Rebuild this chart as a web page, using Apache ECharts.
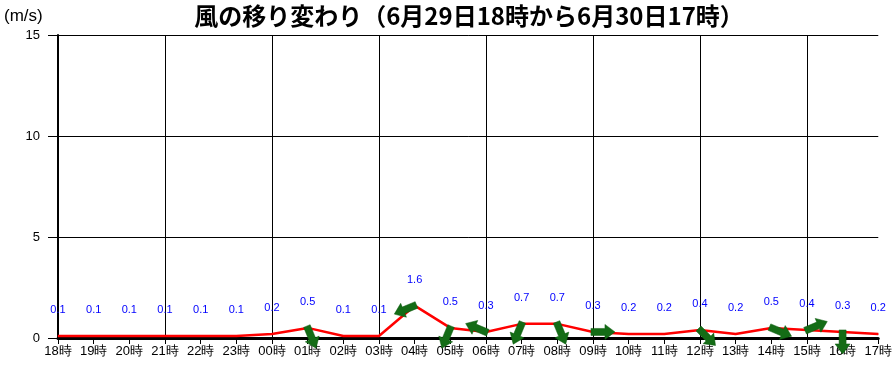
<!DOCTYPE html>
<html>
<head>
<meta charset="utf-8">
<script src="https://cdn.jsdelivr.net/npm/echarts@6/dist/echarts.min.js"></script>
<style>html,body{margin:0;padding:0;background:#fff;}#c{width:895px;height:366px;}</style>
</head>
<body>
<div id="c"></div>
<script>
var titleText = '風の移り変わり（6月29日18時から6月30日17時）';
var unitText = '(m/s)';
var hours = ['18時','19時','20時','21時','22時','23時','00時','01時','02時','03時','04時','05時','06時','07時','08時','09時','10時','11時','12時','13時','14時','15時','16時','17時'];
var speeds = [0.1,0.1,0.1,0.1,0.1,0.1,0.2,0.5,0.1,0.1,1.6,0.5,0.3,0.7,0.7,0.3,0.2,0.2,0.4,0.2,0.5,0.4,0.3,0.2];
// wind "from" direction in degrees (0 = north), null = no arrow
var windFrom = [null,null,null,null,null,null,null,337.5,null,null,67.5,22.5,112.5,22.5,337.5,270,null,null,315,null,292.5,247.5,0,null];
var yTicks = [0,5,10,15];

var arrowData = [];
for (var i = 0; i < hours.length; i++) {
  if (windFrom[i] !== null) arrowData.push([i, speeds[i], windFrom[i]]);
}

var chart = echarts.init(document.getElementById('c'), null, {renderer: 'canvas'});
var FONT = 'Liberation Sans, Arial, sans-serif';
chart.setOption({
  animation: false,
  backgroundColor: '#ffffff',
  title: [{
    text: titleText,
    left: 464, top: -1, textAlign: 'center',
    textStyle: {fontFamily: 'Noto Sans CJK JP', fontSize: 24, fontWeight: 'bold', color: '#000'}
  }, {
    text: unitText,
    left: -1, top: 3,
    textStyle: {fontFamily: FONT, fontSize: 17, fontWeight: 'normal', color: '#000'}
  }],
  grid: {left: 58, right: 15, top: 35, bottom: 28, containLabel: false},
  xAxis: {
    type: 'category',
    data: hours,
    boundaryGap: false,
    axisLine: {show: true, lineStyle: {color: '#000', width: 3}},
    axisTick: {show: true, length: 6, interval: 0, lineStyle: {color: '#000', width: 1}},
    axisLabel: {interval: 0, color: '#000', fontSize: 13, fontFamily: FONT, margin: 7},
    splitLine: {show: true, interval: function (idx) { return idx % 3 === 0 && idx > 0 && idx < 23; }, lineStyle: {color: '#000', width: 1}}
  },
  yAxis: {
    type: 'value',
    min: yTicks[0], max: yTicks[yTicks.length - 1], interval: 5,
    axisLine: {show: true, lineStyle: {color: '#000', width: 2}},
    axisTick: {show: true, length: 10, lineStyle: {color: '#000', width: 1}},
    axisLabel: {color: '#000', fontSize: 13, fontFamily: FONT, margin: 18},
    splitLine: {show: true, lineStyle: {color: '#000', width: 1}}
  },
  series: [{
    type: 'line',
    data: speeds,
    showSymbol: true,
    showAllSymbol: true,
    symbol: 'circle',
    symbolSize: 1,
    lineStyle: {color: '#ff0000', width: 2.5},
    itemStyle: {color: '#ff0000'},
    label: {
      show: true, position: 'top', distance: 20,
      color: '#0000ff', fontSize: 11, fontFamily: FONT,
      formatter: function (p) { return Number(p.value).toFixed(1); }
    },
    labelLayout: {hideOverlap: false},
    z: 2
  }, {
    type: 'custom',
    data: arrowData,
    z: 5,
    renderItem: function (params, api) {
      var pt = api.coord([api.value(0), api.value(1)]);
      var b = (api.value(2) + 180) * Math.PI / 180;
      var ux = Math.sin(b), uy = -Math.cos(b);
      var px = Math.cos(b), py = Math.sin(b);
      function P(a, w) { return [pt[0] + ux * a + px * w, pt[1] + uy * a + py * w]; }
      var t0 = -2, t1 = 12, t2 = 22, sw = 3.5, hw = 7.5;
      return {
        type: 'polygon',
        shape: {points: [P(t0, -sw), P(t1, -sw), P(t1, -hw), P(t2, 0), P(t1, hw), P(t1, sw), P(t0, sw)]},
        style: {fill: '#146c16', stroke: '#0a5a0c', lineWidth: 0.5}
      };
    }
  }]
});
</script>
</body>
</html>
